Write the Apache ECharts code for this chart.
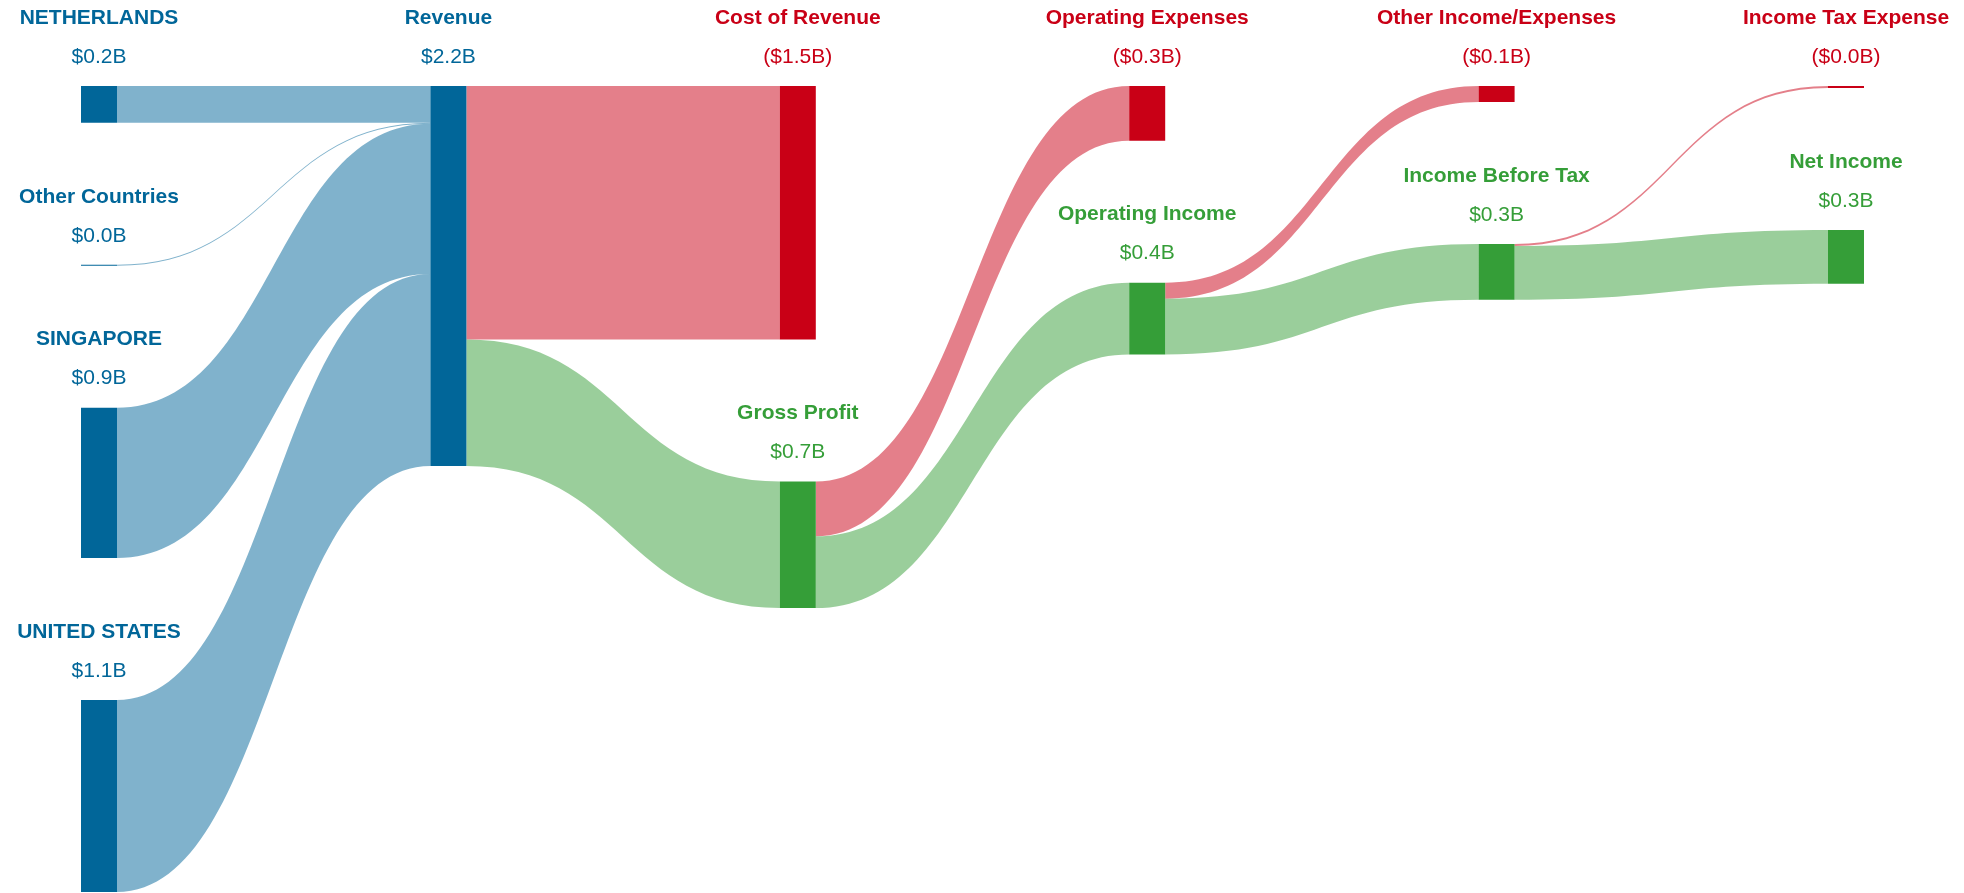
<!DOCTYPE html>
<html>
<head>
<meta charset="utf-8">
<script src="https://cdn.jsdelivr.net/npm/echarts@6/dist/echarts.min.js"></script>
<style>
  html, body { margin: 0; padding: 0; background: #fff; }
  #sankey-chart { width: 1964px; height: 893px; }
</style>
</head>
<body>
<div id="sankey-chart"></div>
<script>
// values in billions of dollars
var nodeNames = [
  "NETHERLANDS", "Other Countries", "SINGAPORE", "UNITED STATES",
  "Revenue",
  "Cost of Revenue", "Gross Profit",
  "Operating Expenses", "Operating Income",
  "Other Income/Expenses", "Income Before Tax",
  "Income Tax Expense", "Net Income"
];
var nodeKinds = [
  "revenue", "revenue", "revenue", "revenue",
  "revenue",
  "expense", "profit",
  "expense", "profit",
  "expense", "profit",
  "expense", "profit"
];
var linkSources = [
  "NETHERLANDS", "Other Countries", "SINGAPORE", "UNITED STATES",
  "Revenue", "Revenue",
  "Gross Profit", "Gross Profit",
  "Operating Income", "Operating Income",
  "Income Before Tax", "Income Before Tax"
];
var linkTargets = [
  "Revenue", "Revenue", "Revenue", "Revenue",
  "Cost of Revenue", "Gross Profit",
  "Operating Expenses", "Operating Income",
  "Other Income/Expenses", "Income Before Tax",
  "Income Tax Expense", "Net Income"
];
var linkValues = [
  0.214, 0.005, 0.874, 1.117,
  1.475, 0.735,
  0.318, 0.417,
  0.093, 0.324,
  0.012, 0.312
];

var kindColors = {
  revenue: "#016699",
  expense: "#c90016",
  profit: "#359e38"
};

var sankeyDom = document.getElementById("sankey-chart");
var sankeyChart = echarts.init(sankeyDom);

var nodes = nodeNames.map(function (name, i) {
  var color = kindColors[nodeKinds[i]];
  return {
    name: name,
    itemStyle: { color: color, borderWidth: 0 },
    label: { color: color }
  };
});

var links = linkSources.map(function (src, i) {
  return { source: src, target: linkTargets[i], value: linkValues[i] };
});

function formatLabel(params) {
  var idx = nodeNames.indexOf(params.name);
  var amount = "$" + params.value.toFixed(1) + "B";
  if (nodeKinds[idx] === "expense") amount = "(" + amount + ")";
  return "{n|" + params.name + "}\n{v|" + amount + "}";
}

var sankeyOption = {
  backgroundColor: "#ffffff",
  animation: false,
  series: [
    {
      type: "sankey",
      left: 81,
      right: 100,
      top: 86,
      bottom: 1,
      nodeWidth: 36,
      nodeGap: 142,
      nodeAlign: "left",
      // keep the nodes in the order given (no relaxation reorder)
      layoutIterations: 0,
      draggable: false,
      data: nodes,
      links: links,
      lineStyle: {
        color: "target",
        opacity: 0.5,
        curveness: 0.5
      },
      label: {
        position: "top",
        distance: 6,
        align: "center",
        fontFamily: "Liberation Sans, Arial, sans-serif",
        formatter: formatLabel,
        rich: {
          n: {
            fontSize: 21,
            fontWeight: "bold",
            lineHeight: 32,
            align: "center",
            fontFamily: "Liberation Sans, Arial, sans-serif"
          },
          v: {
            fontSize: 21,
            lineHeight: 46,
            align: "center",
            fontFamily: "Liberation Sans, Arial, sans-serif"
          }
        }
      },
      emphasis: { disabled: true }
    }
  ]
};

sankeyChart.setOption(sankeyOption);
</script>
</body>
</html>
